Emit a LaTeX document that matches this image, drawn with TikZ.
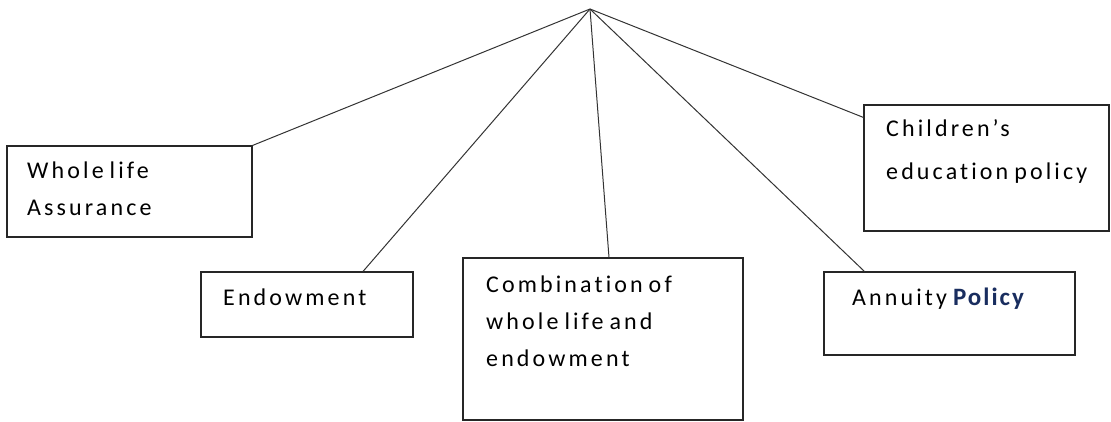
\documentclass[tikz,border=0pt]{standalone}
\usepackage{fontspec}
\newfontfamily\cf[LetterSpace=13,WordSpace=0.7,Ligatures=NoCommon]{Carlito}
\newfontfamily\cfb[LetterSpace=8,Ligatures=NoCommon]{Carlito}
\definecolor{navy}{RGB}{25,45,95}
\begin{document}
\begin{tikzpicture}[x=1pt,y=-1pt,
  box/.style={draw=black!85,line width=1.1pt,inner sep=0pt},
  lbl/.style={anchor=base west,inner sep=0pt,align=left,
    font=\cf\fontsize{24}{37}\selectfont,text=black},
  conn/.style={draw=black!80,line width=1pt}]
\useasboundingbox (0,0) rectangle (1111,422);
\coordinate (apex) at (590,9);
\node[box,minimum width=245pt,minimum height=91pt] (b1) at (129.5,191.5) {};
\node[box,minimum width=212pt,minimum height=65pt] (b2) at (307,304.5) {};
\node[box,minimum width=280pt,minimum height=162pt] (b3) at (603,339) {};
\node[box,minimum width=251pt,minimum height=83pt] (b4) at (949.5,313.5) {};
\node[box,minimum width=245pt,minimum height=126pt] (b5) at (986.5,168) {};
\node[lbl] (t1) at (27,216) {Whole life\\Assurance};
\node[lbl] (t2) at (223,305) {Endowment};
\node[lbl] (t3) at (486,366) {Combination of\\whole life and\\endowment};
\node[lbl] (t4) at (852,305) {Annuity \textcolor{navy}{\cfb\bfseries\fontsize{25}{37}\selectfont Policy}};
\node[lbl,font=\cf\fontsize{24}{43}\selectfont] (t5) at (886,180) {Children’s\\education policy};
\draw[conn] (apex) -- (b1.north east);
\draw[conn] (apex) -- ([xshift=56pt]b2.north);
\draw[conn] (apex) -- ([xshift=6pt]b3.north);
\draw[conn] (apex) -- ([xshift=41pt]b4.north west);
\draw[conn] (apex) -- ([yshift=-13pt]b5.north west);
\end{tikzpicture}
\end{document}
